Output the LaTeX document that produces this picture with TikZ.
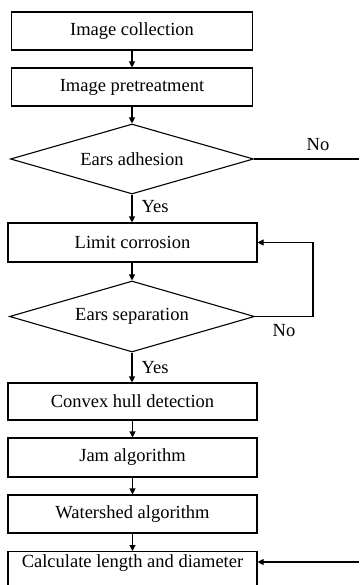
\documentclass[tikz,border=0pt]{standalone}
\usepackage{fontspec}
\setmainfont{Liberation Serif}
\usetikzlibrary{shapes.geometric,arrows.meta}
\begin{document}
\begin{tikzpicture}[x=1pt,y=-1pt,
  every node/.style={font=\fontsize{18.5}{22}\selectfont},
  procbox/.style={draw, line width=1.1pt, rectangle, inner sep=0pt},
  decbox/.style={draw, line width=1.1pt, diamond, aspect=3.5, inner sep=0pt},
  arr/.style={line width=1.1pt, -{Triangle[length=6pt,width=6pt]}},
  plain/.style={line width=1.1pt}]
\useasboundingbox (0,0) rectangle (359,585);
\node[procbox, minimum width=241pt, minimum height=38pt] (b1) at (132,31) {Image collection};
\node[procbox, minimum width=241pt, minimum height=38pt] (b2) at (132,87) {Image pretreatment};
\node[decbox, minimum width=243pt, minimum height=70pt] (d1) at (132,159) {Ears adhesion};
\node[procbox, minimum width=249pt, minimum height=39pt] (b3) at (132.5,242.5) {Limit corrosion};
\node[decbox, minimum width=245pt, minimum height=71pt] (d2) at (132,316.5) {Ears separation};
\node[procbox, minimum width=249pt, minimum height=37pt] (b4) at (132.5,401.5) {Convex hull detection};
\node[procbox, minimum width=249pt, minimum height=39pt] (b5) at (132.5,457.5) {Jam algorithm};
\node[procbox, minimum width=249pt, minimum height=38pt] (b6) at (132.5,514) {Watershed algorithm};
\node[procbox, minimum width=249pt, text height=16pt, text depth=30pt, anchor=north] (b7) at (132.5,551) {Calculate length and diameter};

\node (no1) at (318,145) {No};
\node (no2) at (284,331) {No};
\node (yes1) at (155,207) {Yes};
\node (yes2) at (155,368) {Yes};

\coordinate (rout) at (359,159);
\coordinate (lp) at (313,242.5);
\coordinate (rin) at (359,562);

\draw[arr] (b1.south) -- (b2.north);
\draw[arr] (b2.south) -- (d1.north);
\draw[arr] (d1.south) -- (d1.south |- b3.north);
\draw[arr] (b3.south -| d2.north) -- (d2.north);
\draw[arr] (d2.south) -- (d2.south |- b4.north);
\draw[arr] (b4.south) -- (b5.north);
\draw[arr] (b5.south) -- (b6.north);
\draw[arr] (b6.south) -- (b7.north);
\draw[plain] (d1.east) -- (rout);
\draw[arr] (d2.east) -| (lp) -- (b3.east);
\draw[arr] (rin) -- (rin -| b7.east);
\end{tikzpicture}
\end{document}
